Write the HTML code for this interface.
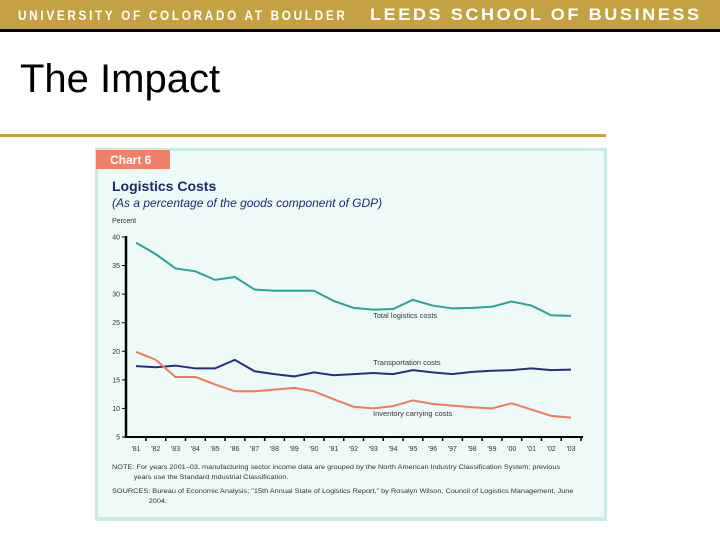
<!DOCTYPE html>
<html><head><meta charset="utf-8"><style>
body{margin:0;width:720px;height:540px;background:#fff;position:relative;overflow:hidden;font-family:"Liberation Sans",sans-serif}
.band{position:absolute;left:0;top:0;width:720px;height:29px;background:#c4a244}
.band .l{position:absolute;left:18px;top:7px;font-size:14px;letter-spacing:3.2px;color:#fff;font-weight:bold;transform:scaleX(0.84);transform-origin:left;white-space:nowrap}
.band .r{position:absolute;left:370px;top:5px;font-size:17px;letter-spacing:2.4px;color:#fff;font-weight:bold;transform:scaleX(1.065);transform-origin:left;white-space:nowrap}
.bl{position:absolute;left:0;top:29px;width:720px;height:3px;background:#000}
h1{position:absolute;left:20px;top:57px;margin:0;font-weight:normal;font-size:40px;color:#000}
.rule{position:absolute;left:0;top:134px;width:606px;height:3px;background:#c4a244}
</style></head><body>
<div class="band"><span class="l">UNIVERSITY OF COLORADO AT BOULDER</span><span class="r">LEEDS SCHOOL OF BUSINESS</span></div>
<div class="bl"></div>
<h1>The Impact</h1>
<div class="rule"></div>
<svg id="chart" width="720" height="540" style="position:absolute;left:0;top:0">
<rect x="95" y="148" width="512" height="373" fill="#c8ebe6"/>
<rect x="98" y="151" width="506" height="366" fill="#eefaf8"/>
<rect x="96" y="150" width="74" height="19" fill="#f0806a"/>
<text x="110" y="164" font-size="12" font-weight="bold" fill="#fff">Chart 6</text>
<text x="112" y="191" font-size="14" font-weight="bold" fill="#1c2a6c">Logistics Costs</text>
<text x="112" y="207" font-size="12" font-style="italic" fill="#1c2a6c">(As a percentage of the goods component of GDP)</text>
<text x="112" y="223" font-size="7" fill="#333">Percent</text>
<g id="axes"></g><g id="lines"></g>
<text x="373" y="318" font-size="7.5" fill="#333">Total logistics costs</text>
<text x="373" y="365" font-size="7.5" fill="#333">Transportation costs</text>
<text x="373" y="416" font-size="7.5" fill="#333">Inventory carrying costs</text>
<g transform="translate(112 0) scale(1.08 1) translate(-112 0)">
<text x="112" y="469" font-size="6.8" fill="#333">NOTE: For years 2001–03, manufacturing sector income data are grouped by the North American Industry Classification System; previous</text>
<text x="132" y="479" font-size="6.8" fill="#333">years use the Standard Industrial Classification.</text>
<text x="112" y="493" font-size="6.8" fill="#333">SOURCES: Bureau of Economic Analysis; "15th Annual State of Logistics Report," by Rosalyn Wilson, Council of Logistics Management, June</text>
<text x="146" y="503" font-size="6.8" fill="#333">2004.</text>
</g>
</svg>
<script>
const years=["'81","'82","'83","'84","'85","'86","'87","'88","'89","'90","'91","'92","'93","'94","'95","'96","'97","'98","'99","'00","'01","'02","'03"];
const totalCosts=[39,37,34.5,34,32.5,33,30.8,30.6,30.6,30.6,28.8,27.6,27.3,27.4,29,28,27.5,27.6,27.8,28.7,28,26.3,26.2];
const transportCosts=[17.4,17.2,17.5,17,17,18.5,16.5,16,15.6,16.3,15.8,16,16.2,16,16.7,16.3,16,16.4,16.6,16.7,17,16.7,16.8];
const inventoryCosts=[19.9,18.5,15.5,15.5,14.2,13,13,13.3,13.6,13,11.6,10.3,10,10.4,11.4,10.8,10.5,10.2,10,10.9,9.8,8.7,8.4];
const yTicks=[5,10,15,20,25,30,35,40];
const NS='http://www.w3.org/2000/svg';
const x=i=>136+i*(571-136)/(years.length-1);
const y=v=>437-(v-5)*(200/35);
const ax=document.getElementById('axes'),ln=document.getElementById('lines');
function mk(tag,at,p){const e=document.createElementNS(NS,tag);for(const k in at)e.setAttribute(k,at[k]);p.appendChild(e);return e;}
const ya=mk('line',{x1:126,x2:126,y1:y(40)-1,y2:438,stroke:'#000','stroke-width':2.5},ax);


const xa=mk('line',{x1:125,x2:583,y1:437,y2:437,stroke:'#000','stroke-width':2},ax);


yTicks.forEach(t=>{
 mk('line',{x1:122,x2:126,y1:y(t),y2:y(t),stroke:'#000','stroke-width':1},ax);
 const tx=mk('text',{x:120,y:y(t)+2.5,'font-size':7,'text-anchor':'end',fill:'#333'},ax);tx.textContent=t;
 
 
});
years.forEach((yr,i)=>{
 mk('line',{x1:x(i)+10,x2:x(i)+10,y1:437,y2:441,stroke:'#000','stroke-width':1.5},ax);
 const tx=mk('text',{x:x(i),y:451,'font-size':7,'text-anchor':'middle',fill:'#333'},ax);tx.textContent=yr;
 
 
});
function series(vals,color,name){
 const p=mk('polyline',{points:vals.map((v,i)=>x(i)+','+y(v)).join(' '),fill:'none',stroke:color,'stroke-width':2},ln);
 
 
}
series(totalCosts,'#2aa39a','total-logistics-line');
series(transportCosts,'#26307a','transportation-line');
series(inventoryCosts,'#f07a5e','inventory-line');
</script>
</body></html>
